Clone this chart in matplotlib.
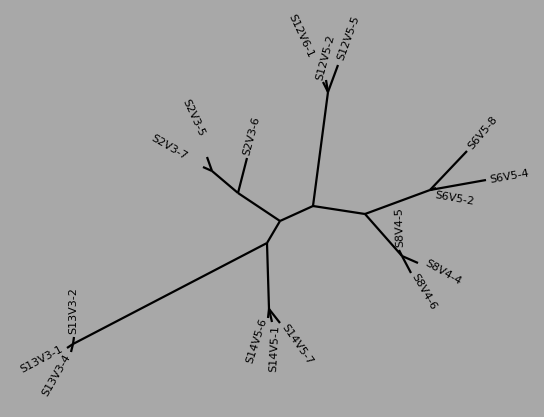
import matplotlib
matplotlib.use("Agg")
import matplotlib.pyplot as plt

# Tree node positions (layout of the unrooted tree, image units)
nodes = {
    "A": (313, 206), "B": (280, 221), "C": (267, 243), "D": (365, 214),
    "E": (430, 190), "F": (402, 256), "G": (328, 92), "H": (238, 193),
    "I": (212, 171), "J": (269, 309), "K": (73, 344),
    "S12V6-1": (323, 82), "S12V5-2": (326, 80), "S12V5-5": (338, 65),
    "S6V5-8": (467, 151), "S6V5-4": (486, 180), "S6V5-2": (436, 188),
    "S8V4-5": (399, 250), "S8V4-4": (418, 263), "S8V4-6": (411, 273),
    "S2V3-6": (247, 158), "S2V3-5": (207, 157), "S2V3-7": (203, 167),
    "S13V3-2": (74, 337), "S13V3-1": (67, 348), "S13V3-4": (71, 352),
    "S14V5-6": (268, 318), "S14V5-1": (272, 322), "S14V5-7": (280, 323),
}

edges = [("A", "B"), ("B", "C"), ("A", "G"), ("A", "D"), ("D", "E"), ("D", "F"),
         ("B", "H"), ("H", "I"), ("C", "K"), ("C", "J"),
         ("G", "S12V6-1"), ("G", "S12V5-2"), ("G", "S12V5-5"),
         ("E", "S6V5-8"), ("E", "S6V5-4"), ("E", "S6V5-2"),
         ("F", "S8V4-5"), ("F", "S8V4-4"), ("F", "S8V4-6"),
         ("H", "S2V3-6"), ("I", "S2V3-5"), ("I", "S2V3-7"),
         ("K", "S13V3-2"), ("K", "S13V3-1"), ("K", "S13V3-4"),
         ("J", "S14V5-6"), ("J", "S14V5-1"), ("J", "S14V5-7")]

# label: (x, y, rotation, ha)
labels = {
    "S12V6-1": (291, 15, -65, "left"),
    "S12V5-2": (319, 80, 75, "left"),
    "S12V5-5": (340, 60, 70, "left"),
    "S6V5-8": (470, 148, 50, "left"),
    "S6V5-4": (490, 180, 10, "left"),
    "S6V5-2": (435, 195, -10, "left"),
    "S8V4-5": (400, 247, 92, "left"),
    "S8V4-4": (426, 262, -30, "left"),
    "S8V4-6": (414, 275, -60, "left"),
    "S2V3-6": (246, 155, 75, "left"),
    "S2V3-5": (185, 100, -65, "left"),
    "S2V3-7": (152, 137, -30, "left"),
    "S13V3-2": (73, 334, 90, "left"),
    "S13V3-1": (62, 348, 28, "right"),
    "S13V3-4": (68, 355, 60, "right"),
    "S14V5-6": (264, 318, 72, "right"),
    "S14V5-1": (276, 325, 87, "right"),
    "S14V5-7": (284, 325, -55, "left"),
}

fig = plt.figure(figsize=(5.44, 4.17), dpi=100, facecolor="#a8a8a8")
ax = fig.add_axes([0, 0, 1, 1])
ax.set_facecolor("#a8a8a8")
ax.set_xlim(0, 544)
ax.set_ylim(417, 0)
ax.axis("off")

for a, b in edges:
    (x1, y1), (x2, y2) = nodes[a], nodes[b]
    ax.plot([x1, x2], [y1, y2], color="black", lw=1.6, solid_capstyle="butt")

for name, (x, y, rot, ha) in labels.items():
    ax.text(x, y, name, rotation=rot, ha=ha, va="center", rotation_mode="anchor",
            fontsize=8, color="black", family="DejaVu Sans")

fig.savefig("out.png", dpi=100, facecolor=fig.get_facecolor())
